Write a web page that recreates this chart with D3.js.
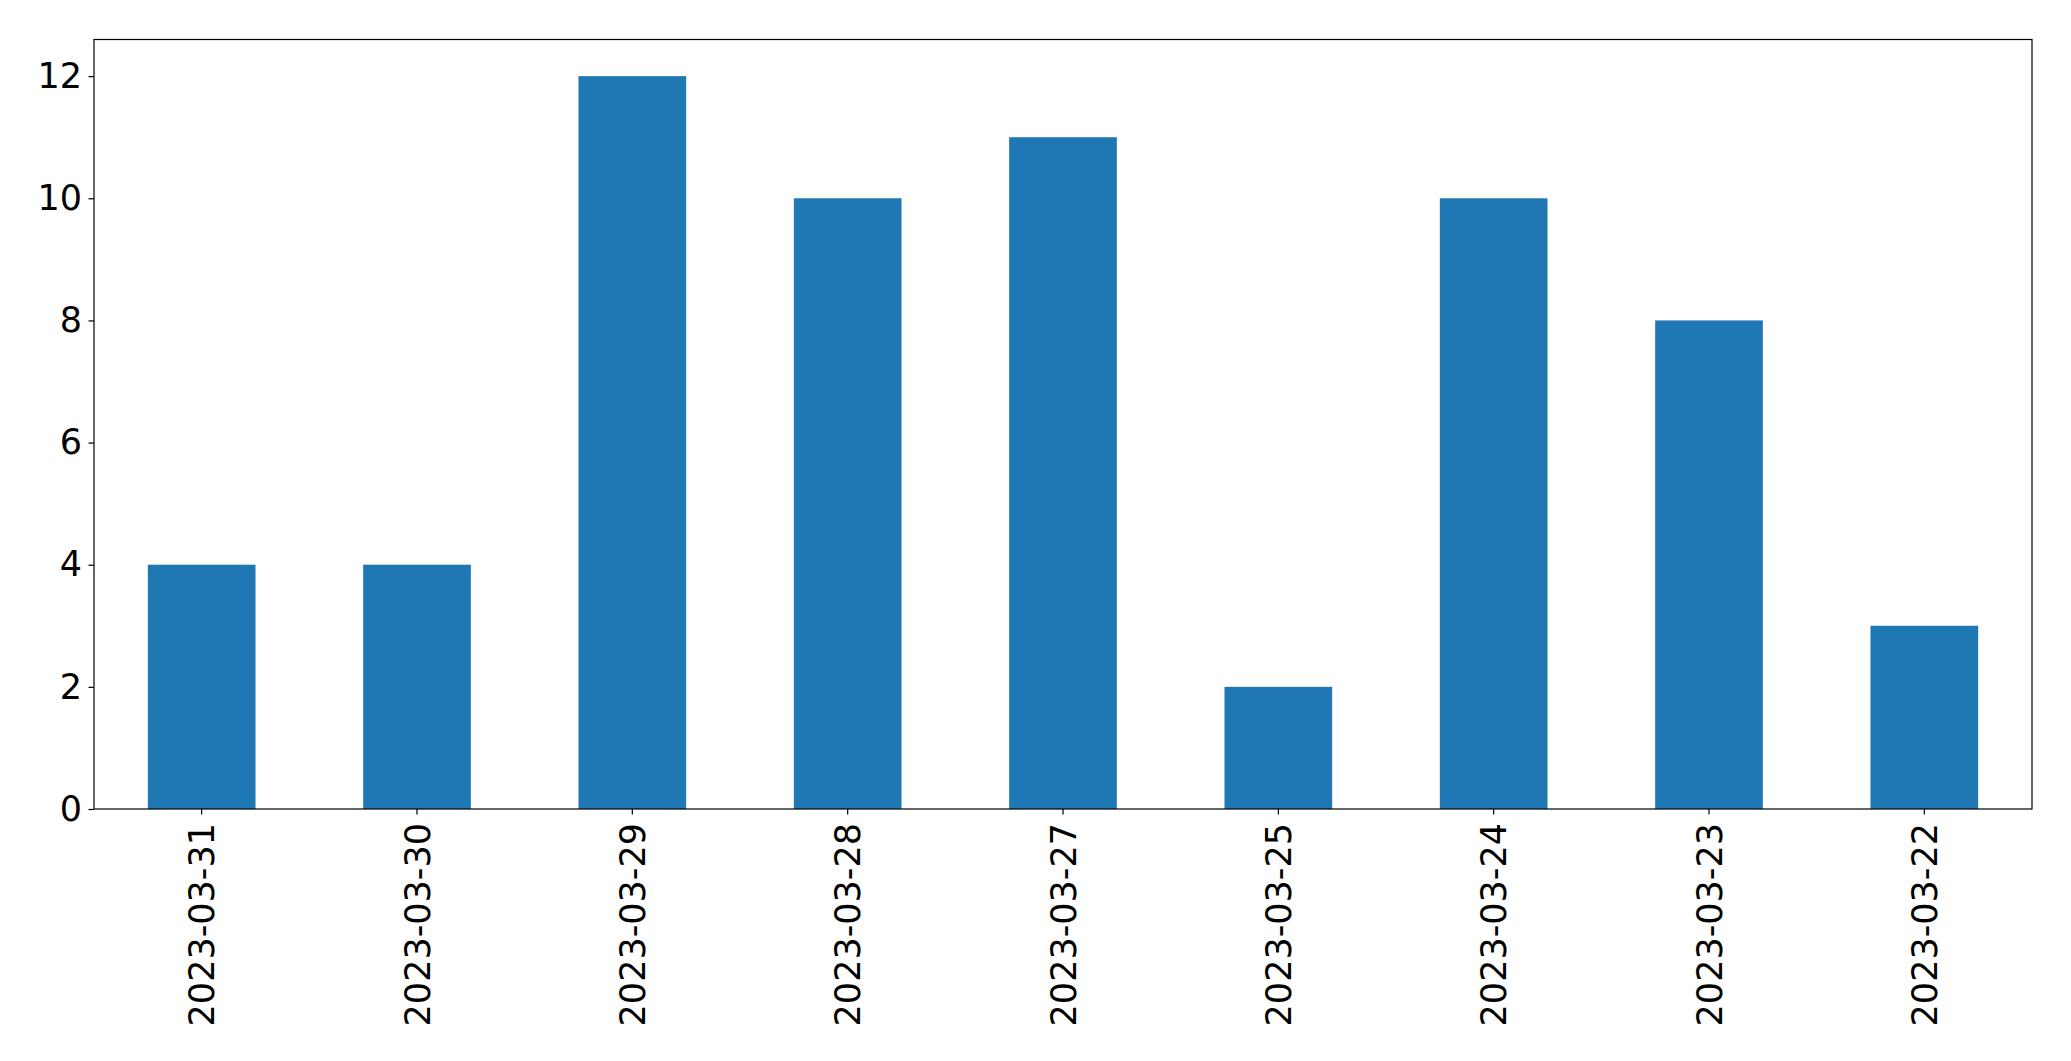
<!DOCTYPE html>
<html>
<head>
<meta charset="utf-8">
<script src="https://cdn.jsdelivr.net/npm/d3@7"></script>
<style>
  html, body { margin: 0; padding: 0; background: #fff; }
  svg { display: block; }
  text { font-family: "DejaVu Sans", sans-serif; fill: #000; }
</style>
</head>
<body>
<svg id="chart" width="2071" height="1061"></svg>
<script>
const categories = ["2023-03-31", "2023-03-30", "2023-03-29", "2023-03-28", "2023-03-27", "2023-03-25", "2023-03-24", "2023-03-23", "2023-03-22"];
const values = [4, 4, 12, 10, 11, 2, 10, 8, 3];
const yTicks = [0, 2, 4, 6, 8, 10, 12];

const W = 2071, H = 1061;
const margin = { left: 94, right: 2071 - 2032, top: 39.5, bottom: 1061 - 809 };
const fontSize = 35;

const svg = d3.select("#chart");

const x = d3.scaleBand()
  .domain(categories)
  .range([margin.left, W - margin.right])
  .paddingInner(0.5)
  .paddingOuter(0.25);

const y = d3.scaleLinear()
  .domain([0, d3.max(values) * 1.05])
  .range([H - margin.bottom, margin.top]);

// bars
svg.append("g")
  .selectAll("rect")
  .data(values)
  .join("rect")
  .attr("x", (d, i) => x(categories[i]))
  .attr("width", x.bandwidth())
  .attr("y", d => y(d))
  .attr("height", d => y(0) - y(d))
  .attr("fill", "#1f77b4");

// y axis
const yAxis = d3.axisLeft(y).tickValues(yTicks).tickSize(5.5).tickPadding(6.5).tickFormat(d3.format("d"));
const gy = svg.append("g")
  .attr("transform", `translate(${margin.left},0)`)
  .call(yAxis);
gy.select(".domain").remove();
gy.selectAll(".tick line").attr("stroke", "#000").attr("stroke-width", 1.2);
gy.selectAll(".tick text")
  .attr("font-size", fontSize)
  .attr("font-family", "DejaVu Sans")
  .attr("fill", "#000");

// x axis
const xAxis = d3.axisBottom(x).tickSize(5.5).tickPadding(8);
const gx = svg.append("g")
  .attr("transform", `translate(0,${H - margin.bottom})`)
  .call(xAxis);
gx.select(".domain").remove();
gx.selectAll(".tick line").attr("stroke", "#000").attr("stroke-width", 1.2);
gx.selectAll(".tick text")
  .attr("font-size", fontSize)
  .attr("font-family", "DejaVu Sans")
  .attr("fill", "#000")
  .attr("text-anchor", "end")
  .attr("transform", "translate(0,14) rotate(-90)")
  .attr("x", 0)
  .attr("y", 0)
  .attr("dy", "0.36em");

// frame
svg.append("rect")
  .attr("x", margin.left)
  .attr("y", margin.top)
  .attr("width", W - margin.right - margin.left)
  .attr("height", H - margin.bottom - margin.top)
  .attr("fill", "none")
  .attr("stroke", "#000")
  .attr("stroke-width", 1.2);
</script>
</body>
</html>
